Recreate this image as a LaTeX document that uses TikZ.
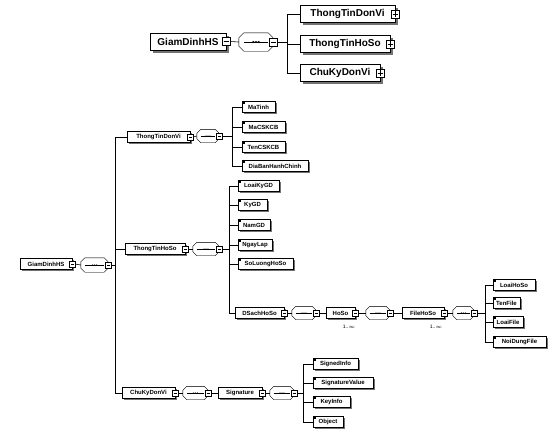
\documentclass[tikz,border=0pt]{standalone}
\usepackage{fontspec}
\setmainfont{Liberation Sans}
\usetikzlibrary{shadows,calc}
\tikzset{
  boxbig/.style={draw, fill=white, font=\fontsize{10}{12}\selectfont\bfseries, minimum height=17pt, inner sep=1pt,
    drop shadow={shadow xshift=2.5pt,shadow yshift=-2.5pt,fill=black!55,opacity=1}},
  boxsml/.style={draw, fill=white, font=\fontsize{6}{7}\selectfont\bfseries, minimum height=11pt, inner sep=0.5pt,
    drop shadow={shadow xshift=1.6pt,shadow yshift=-1.6pt,fill=black!55,opacity=1}},
  leaf/.style={boxsml, path picture={\fill[black] (path picture bounding box.north west) rectangle ++(2.5pt,-2.5pt);}},
  sqbig/.style={draw, fill=white, minimum size=8pt, inner sep=0pt},
  sqsml/.style={draw, fill=white, minimum size=5.5pt, inner sep=0pt},
  minus/.style={path picture={\draw ([xshift=1.3pt]path picture bounding box.west) -- ([xshift=-1.3pt]path picture bounding box.east);}},
  plus/.style={path picture={\draw ([xshift=1.3pt]path picture bounding box.west) -- ([xshift=-1.3pt]path picture bounding box.east)
     ([yshift=-1.3pt]path picture bounding box.north) -- ([yshift=1.3pt]path picture bounding box.south);}},
  octframe/.style={draw, fill=white},
  octshadow/.style={fill=black!45},
  conn/.style={draw, line width=0.6pt},
  mult/.style={font=\fontsize{5}{6}\selectfont, inner sep=0pt}
}
% name, left, right, y, text, style
\newcommand\EL[6]{\pgfmathsetmacro\myw{#3-#2}\pgfmathsetmacro\myx{(#2+#3)/2}%
  \node[#6, minimum width=\myw pt] (#1) at (\myx,#4) {#5};}
% octagon outline around node #1, chamfer #2, shadow offset #3
\newcommand\OCTPATH[2]{([xshift=#2]#1.north west) -- ([xshift=-#2]#1.north east) -- ([yshift=-#2]#1.north east)
  -- ([yshift=#2]#1.south east) -- ([xshift=-#2]#1.south east) -- ([xshift=#2]#1.south west)
  -- ([yshift=#2]#1.south west) -- ([yshift=-#2]#1.north west) -- cycle}
% name, left, right, y, height, chamfer, shadow, dot radius, dot sep, line inset
\newcommand\OC[9]{\pgfmathsetmacro\myw{#3-#2}\pgfmathsetmacro\myx{(#2+#3)/2}%
  \node[inner sep=0pt, minimum width=\myw pt, minimum height=#5pt] (#1) at (\myx,#4) {};
  \fill[octshadow, shift={(#7,-#7)}] \OCTPATH{#1}{#6};
  \draw[octframe] \OCTPATH{#1}{#6};
  \draw ([xshift=#9]#1.west) -- ([xshift=-#9]#1.east);
  \fill (#1.center) circle (#8) ([xshift=-#9*0+0pt]#1.center) ++(-2*#8-0.6pt,0) circle (#8)
        (#1.center) ++(2*#8+0.6pt,0) circle (#8);}
\begin{document}
\begin{tikzpicture}[x=1pt,y=-1pt]
\fill[white] (0,0) rectangle (553,437);
\useasboundingbox (0,0) rectangle (553,437);

%% ---------- top diagram ----------
\EL{gT}{150}{226}{41.5}{GiamDinhHS\hspace{5pt}}{boxbig}
\node[sqbig,minus] (gTm) at (gT.east) {};
\OC{oT}{239}{273}{42}{18}{5pt}{1.5pt}{1.1pt}{5pt}
\node[sqbig,minus] (oTm) at (oT.east) {};
\coordinate (sT) at (287,42);
\EL{t1}{300}{395}{14}{ThongTinDonVi\hspace{7pt}}{boxbig}
\node[sqbig,plus] (t1p) at (t1.east) {};
\EL{t2}{300}{390}{44}{ThongTinHoSo\hspace{7pt}}{boxbig}
\node[sqbig,plus] (t2p) at (t2.east) {};
\EL{t3}{300}{380}{73}{ChuKyDonVi\hspace{7pt}}{boxbig}
\node[sqbig,plus] (t3p) at (t3.east) {};
\draw[conn] (gTm.east) -- (oT.west);
\draw[conn] (oTm.east) -- (oTm.east -| sT);
\draw[conn] (t1.west -| sT) -- (t3.west -| sT);
\foreach \c in {t1,t2,t3} \draw[conn] (\c.west -| sT) -- (\c.west);

%% ---------- lower diagram ----------
\EL{g}{20}{72}{264}{GiamDinhHS\hspace{3pt}}{boxsml}
\node[sqsml,minus] (gm) at (g.east) {};
\OC{o0}{81}{108}{265}{14}{4pt}{1pt}{0.65pt}{4pt}
\node[sqsml,minus] (o0m) at (o0.east) {};
\coordinate (s0) at (115,265);
\draw[conn] (gm.east) -- (o0.west);
\draw[conn] (o0m.east) -- (o0m.east -| s0);

% ThongTinDonVi
\EL{a}{127}{190}{137}{ThongTinDonVi\hspace{3pt}}{boxsml}
\node[sqsml,minus] (am) at (a.east) {};
\OC{ao}{197}{219}{136}{13}{4pt}{1pt}{0.65pt}{4pt}
\node[sqsml,minus] (aom) at (ao.east) {};
\coordinate (sa) at (232,136);
\EL{a1}{242}{275}{107}{MaTinh}{leaf}
\EL{a2}{242}{285}{127}{MaCSKCB}{leaf}
\EL{a3}{242}{285}{147}{TenCSKCB}{leaf}
\EL{a4}{242}{308}{166}{DiaBanHanhChinh}{leaf}
\draw[conn] (am.east) -- (ao.west);
\draw[conn] (aom.east) -- (aom.east -| sa);
\draw[conn] (a1.west -| sa) -- (a4.west -| sa);
\foreach \c in {a1,a2,a3,a4} \draw[conn] (\c.west -| sa) -- (\c.west);

% ThongTinHoSo
\EL{b}{125}{185}{249}{ThongTinHoSo\hspace{3pt}}{boxsml}
\node[sqsml,minus] (bm) at (b.east) {};
\OC{bo}{193}{219}{249}{13}{4pt}{1pt}{0.65pt}{4pt}
\node[sqsml,minus] (bom) at (bo.east) {};
\coordinate (sb) at (229,249);
\EL{b1}{238}{279}{186}{LoaiKyGD}{leaf}
\EL{b2}{238}{267}{205}{KyGD}{leaf}
\EL{b3}{238}{270}{225}{NamGD}{leaf}
\EL{b4}{238}{272}{245}{NgayLap}{leaf}
\EL{b5}{238}{293}{264}{SoLuongHoSo}{leaf}
\EL{b6}{235}{284}{313}{DSachHoSo\hspace{3pt}}{boxsml}
\draw[conn] (bm.east) -- (bo.west);
\draw[conn] (bom.east) -- (bom.east -| sb);
\draw[conn] (b1.west -| sb) -- (b6.west -| sb);
\foreach \c in {b1,b2,b3,b4,b5,b6} \draw[conn] (\c.west -| sb) -- (\c.west);

% DSachHoSo chain
\node[sqsml,minus] (b6m) at (b6.east) {};
\OC{co}{292}{316}{313}{13}{4pt}{1pt}{0.65pt}{4pt}
\node[sqsml,minus] (com) at (co.east) {};
\EL{h}{326}{355}{313}{HoSo\hspace{3pt}}{boxsml}
\node[sqsml,minus] (hm) at (h.east) {};
\node[mult] (hmul) at (349,327) {1..$\infty$};
\OC{ho}{366}{390}{313}{13}{4pt}{1pt}{0.65pt}{4pt}
\node[sqsml,minus] (hom) at (ho.east) {};
\EL{f}{402}{444}{313}{FileHoSo\hspace{3pt}}{boxsml}
\node[sqsml,minus] (fm) at (f.east) {};
\node[mult] (fmul) at (436,327) {1..$\infty$};
\OC{fo}{453}{474}{313}{13}{4pt}{1pt}{0.65pt}{4pt}
\node[sqsml,minus] (fom) at (fo.east) {};
\coordinate (sf) at (485,313);
\EL{f1}{493}{535}{285}{LoaiHoSo}{leaf}
\EL{f2}{493}{520}{303}{TenFile}{leaf}
\EL{f3}{493}{523}{322}{LoaiFile}{leaf}
\EL{f4}{493}{546}{342}{NoiDungFile}{leaf}
\draw[conn] (b6m.east) -- (co.west);
\draw[conn] (com.east) -- (h.west);
\draw[conn] (hm.east) -- (ho.west);
\draw[conn] (hom.east) -- (f.west);
\draw[conn] (fm.east) -- (fo.west);
\draw[conn] (fom.east) -- (fom.east -| sf);
\draw[conn] (f1.west -| sf) -- (f4.west -| sf);
\foreach \c in {f1,f2,f3,f4} \draw[conn] (\c.west -| sf) -- (\c.west);

% ChuKyDonVi
\EL{k}{122}{175}{393}{ChuKyDonVi\hspace{3pt}}{boxsml}
\node[sqsml,minus] (km) at (k.east) {};
\OC{ko}{183}{208}{393}{13}{4pt}{1pt}{0.65pt}{4pt}
\node[sqsml,minus] (kom) at (ko.east) {};
\EL{s}{218}{262}{393}{Signature\hspace{3pt}}{boxsml}
\node[sqsml,minus] (sm) at (s.east) {};
\OC{so}{270}{294}{393}{13}{4pt}{1pt}{0.65pt}{4pt}
\node[sqsml,minus] (som) at (so.east) {};
\coordinate (ss) at (303,393);
\EL{s1}{313}{358}{364}{SignedInfo}{leaf}
\EL{s2}{313}{373}{383}{SignatureValue}{leaf}
\EL{s3}{313}{350}{402}{KeyInfo}{leaf}
\EL{s4}{313}{343}{422}{Object}{leaf}
\draw[conn] (km.east) -- (ko.west);
\draw[conn] (kom.east) -- (s.west);
\draw[conn] (sm.east) -- (so.west);
\draw[conn] (som.east) -- (som.east -| ss);
\draw[conn] (s1.west -| ss) -- (s4.west -| ss);
\foreach \c in {s1,s2,s3,s4} \draw[conn] (\c.west -| ss) -- (\c.west);

% main spine
\draw[conn] (a.west -| s0) -- (k.west -| s0);
\foreach \c in {a,b,k} \draw[conn] (\c.west -| s0) -- (\c.west);
\end{tikzpicture}
\end{document}
